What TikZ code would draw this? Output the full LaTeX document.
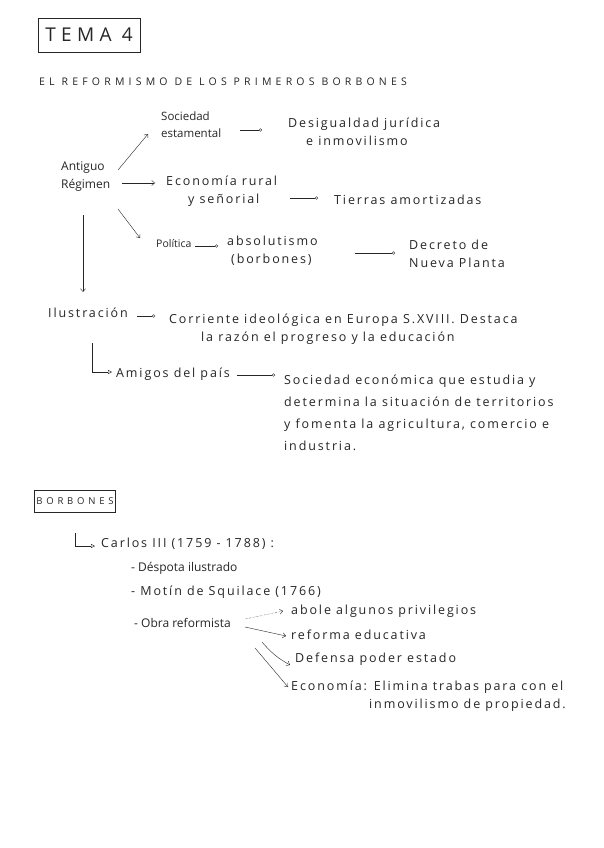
\documentclass[tikz,border=0pt]{standalone}
\usepackage{fontspec}
\usepackage{tikz}
\usetikzlibrary{positioning,arrows.meta,calc}
\newfontfamily\hand[LetterSpace=15]{Open Sans}
\newfontfamily\handsm[LetterSpace=0]{Open Sans}
\newfontfamily\caps[LetterSpace=40]{Open Sans}
\newfontfamily\capsbig[LetterSpace=28]{Open Sans}
\definecolor{pen}{gray}{0.15}
\tikzset{
  txt/.style  = {anchor=west, align=left, inner sep=1pt, text=pen,
                 font=\hand\fontsize{12.5}{18}\selectfont},
  narrow/.style = {txt, font=\handsm\fontsize{12}{18}\selectfont},
  ar/.style   = {-{Straight Barb[length=3pt,width=5pt]}, thin, pen},
  toc/.style  = {-{Circle[open,length=3pt]}, thin, pen},
  trg/.style  = {-{Triangle[open,length=4pt,width=4pt]}, thin, pen},
  boxed/.style= {draw=pen, thin, inner sep=4pt},
}
\begin{document}
\begin{tikzpicture}[x=1pt,y=-1pt]
  \useasboundingbox[fill=white] (0,0) rectangle (604,848);

  % --- header ---
  \node[boxed, minimum width=102pt, minimum height=34pt, text=pen,
        font=\capsbig\fontsize{19}{19}\selectfont] (tema) at (89,35) {TEMA 4};
  \draw[pen, line width=1.2pt] (tema.south west) -- (tema.south east);
  \draw[pen, line width=1pt] (tema.north east) -- (tema.south east);
  \node[txt, font=\caps\fontsize{10.5}{12}\selectfont] (titulo) at (38,82)
       {EL REFORMISMO DE LOS PRIMEROS BORBONES};

  % --- Antiguo Regimen ---
  \node[narrow] (antiguo) at (60,177) {Antiguo\\Régimen};
  \node[narrow, font=\handsm\fontsize{11.5}{17}\selectfont] (soc) at (160,125) {Sociedad\\estamental};
  \node[txt] (desig) at (287,132) {Desigualdad jurídica\\\hspace{18pt}e inmovilismo};
  \node[txt] (econ) at (165,191) {Economía rural\\\hspace{22pt}y señorial};
  \node[txt] (tierras) at (333,200) {Tierras amortizadas};
  \node[narrow, font=\handsm\fontsize{10.5}{18}\selectfont] (pol) at (155,244) {Política};
  \node[txt] (abs) at (226,251) {absolutismo\\\hspace{4pt}(borbones)};
  \node[txt] (decreto) at (408,254) {Decreto de\\Nueva Planta};

  \draw[ar] ([xshift=58pt,yshift=7pt]antiguo.west) -- ([xshift=-12pt,yshift=-9pt]soc.west);
  \draw[ar] ([xshift=62pt,yshift=-6pt]antiguo.west) -- ([xshift=-10pt,yshift=8pt]econ.west);
  \draw[ar] ([xshift=58pt,yshift=-32pt]antiguo.west) -- ([xshift=-15pt,yshift=6pt]pol.west);
  \draw[toc] ([xshift=80pt,yshift=-5pt]soc.west) -- ([xshift=-25pt,yshift=2pt]desig.west);
  \draw[toc] ([xshift=125pt,yshift=-7pt]econ.west) -- ([xshift=-15pt,yshift=2pt]tierras.west);
  \draw[toc] ([xshift=40pt,yshift=-2pt]pol.west) -- ([xshift=-8pt,yshift=5pt]abs.west);
  \draw[toc] ([xshift=129pt,yshift=-2pt]abs.west) -- ([xshift=-13pt,yshift=1pt]decreto.west);

  % --- Ilustracion ---
  \node[txt] (ilus) at (47,313) {Ilustración};
  \node[txt] (corr) at (168,329)
       {Corriente ideológica en Europa S.XVIII. Destaca\\\hspace{32pt}la razón el progreso y la educación};
  \node[txt] (amigos) at (115,374) {Amigos del país};
  \node[txt, font=\hand\fontsize{12.5}{22}\selectfont] (socec) at (283,413)
       {Sociedad económica que estudia y\\determina la situación de territorios\\y fomenta la agricultura, comercio e\\industria.};

  \draw[ar] ([xshift=23pt,yshift=-38pt]antiguo.west) -- ([xshift=36pt,yshift=21pt]ilus.west);
  \draw[toc] ([xshift=90pt,yshift=-3pt]ilus.west) -- ([xshift=-13pt,yshift=13pt]corr.west);
  \draw[trg] ([xshift=45pt,yshift=-30pt]ilus.west) |- ([xshift=-3pt,yshift=2pt]amigos.west);
  \draw[toc] ([xshift=122pt,yshift=-1pt]amigos.west) -- ([xshift=-8pt,yshift=38pt]socec.west);

  % --- Borbones ---
  \node[boxed, text=pen, font=\caps\fontsize{9.5}{9.5}\selectfont, minimum width=70pt,
        minimum height=22pt, inner sep=2pt] (borb) at (75,501) {BORBONES};
  \node[txt] (carlos) at (100,544) {Carlos III (1759 - 1788) :};
  \node[narrow] (desp) at (130,568) {- Déspota ilustrado};
  \node[txt] (motin) at (130,592) {- Motín de Squilace (1766)};
  \node[narrow] (obra) at (133,623) {- Obra reformista};
  \node[txt] (abole) at (290,611) {abole algunos privilegios};
  \node[txt] (refed) at (290,635) {reforma educativa};
  \node[txt] (defensa) at (294,659) {Defensa poder estado};
  \node[txt] (econo) at (290,696)
       {Economía: Elimina trabas para con el\\\hspace{78pt}inmovilismo de propiedad.};

  \draw[trg] ([xshift=-25pt,yshift=11pt]carlos.west) |- ([xshift=-5pt,yshift=-2pt]carlos.west);
  \draw[ar, densely dotted] ([xshift=112pt,yshift=4pt]obra.west) -- ([xshift=-7pt]abole.west);
  \draw[ar] ([xshift=112pt,yshift=-4pt]obra.west) -- ([xshift=-4pt,yshift=-1pt]refed.west);
  \draw[ar] ([xshift=129pt,yshift=-19pt]obra.west) to[bend right=10] ([xshift=-4pt,yshift=-6pt]defensa.west);
  \draw[ar] ([xshift=122pt,yshift=-25pt]obra.west) -- ([xshift=-2pt,yshift=9pt]econo.west);
\end{tikzpicture}
\end{document}
